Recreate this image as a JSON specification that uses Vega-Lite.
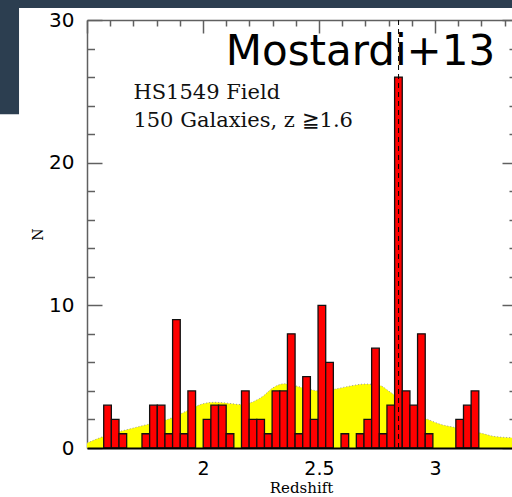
{
  "$schema": "https://vega.github.io/schema/vega-lite/v6.json",
  "width": 428,
  "height": 428,
  "autosize": {"type": "none"},
  "padding": {"left": 87, "top": 20, "right": 0, "bottom": 49},
  "background": "white",
  "view": {"stroke": null},
  "datasets": {
    "bars": [
      {"z0": 1.572, "z1": 1.605, "n": 3},
      {"z0": 1.605, "z1": 1.638, "n": 2},
      {"z0": 1.638, "z1": 1.671, "n": 1},
      {"z0": 1.737, "z1": 1.770, "n": 1},
      {"z0": 1.770, "z1": 1.803, "n": 3},
      {"z0": 1.803, "z1": 1.836, "n": 3},
      {"z0": 1.836, "z1": 1.869, "n": 1},
      {"z0": 1.869, "z1": 1.902, "n": 9},
      {"z0": 1.902, "z1": 1.935, "n": 1},
      {"z0": 1.935, "z1": 1.968, "n": 4},
      {"z0": 2.001, "z1": 2.034, "n": 2},
      {"z0": 2.034, "z1": 2.067, "n": 3},
      {"z0": 2.067, "z1": 2.100, "n": 3},
      {"z0": 2.100, "z1": 2.133, "n": 1},
      {"z0": 2.166, "z1": 2.199, "n": 4},
      {"z0": 2.199, "z1": 2.232, "n": 2},
      {"z0": 2.232, "z1": 2.265, "n": 2},
      {"z0": 2.265, "z1": 2.298, "n": 1},
      {"z0": 2.298, "z1": 2.331, "n": 4},
      {"z0": 2.331, "z1": 2.364, "n": 4},
      {"z0": 2.364, "z1": 2.397, "n": 8},
      {"z0": 2.397, "z1": 2.430, "n": 1},
      {"z0": 2.430, "z1": 2.463, "n": 5},
      {"z0": 2.463, "z1": 2.496, "n": 2},
      {"z0": 2.496, "z1": 2.529, "n": 10},
      {"z0": 2.529, "z1": 2.562, "n": 6},
      {"z0": 2.595, "z1": 2.628, "n": 1},
      {"z0": 2.661, "z1": 2.694, "n": 1},
      {"z0": 2.694, "z1": 2.727, "n": 2},
      {"z0": 2.727, "z1": 2.760, "n": 7},
      {"z0": 2.760, "z1": 2.793, "n": 1},
      {"z0": 2.793, "z1": 2.826, "n": 3},
      {"z0": 2.826, "z1": 2.859, "n": 26},
      {"z0": 2.859, "z1": 2.892, "n": 4},
      {"z0": 2.892, "z1": 2.925, "n": 3},
      {"z0": 2.925, "z1": 2.958, "n": 8},
      {"z0": 2.958, "z1": 2.991, "n": 1},
      {"z0": 3.090, "z1": 3.123, "n": 2},
      {"z0": 3.123, "z1": 3.156, "n": 3},
      {"z0": 3.156, "z1": 3.189, "n": 4}
    ],
    "selection": [
      {"z": 1.50, "s": 0.35},
      {"z": 1.57, "s": 0.8},
      {"z": 1.64, "s": 1.15},
      {"z": 1.70, "s": 1.4},
      {"z": 1.76, "s": 1.65},
      {"z": 1.84, "s": 1.96},
      {"z": 1.93, "s": 2.6},
      {"z": 2.00, "s": 3.1},
      {"z": 2.05, "s": 3.2},
      {"z": 2.10, "s": 3.15},
      {"z": 2.16, "s": 3.05},
      {"z": 2.20, "s": 3.15},
      {"z": 2.26, "s": 3.65},
      {"z": 2.30, "s": 4.2},
      {"z": 2.35, "s": 4.5},
      {"z": 2.40, "s": 4.35},
      {"z": 2.45, "s": 4.15},
      {"z": 2.50, "s": 4.0},
      {"z": 2.56, "s": 4.1},
      {"z": 2.62, "s": 4.3},
      {"z": 2.70, "s": 4.48},
      {"z": 2.76, "s": 4.4},
      {"z": 2.80, "s": 4.0},
      {"z": 2.84, "s": 3.5},
      {"z": 2.88, "s": 2.8},
      {"z": 2.93, "s": 2.25},
      {"z": 2.97, "s": 2.0},
      {"z": 3.02, "s": 1.68},
      {"z": 3.09, "s": 1.42},
      {"z": 3.20, "s": 1.03},
      {"z": 3.26, "s": 0.8},
      {"z": 3.33, "s": 0.72},
      {"z": 3.40, "s": 0.65}
    ]
  },
  "layer": [
    {
      "data": {"values": [{}]},
      "mark": {"type": "rect", "color": "#2c3e50", "clip": false},
      "encoding": {
        "x": {"datum": 1.0, "type": "quantitative", "scale": {"domain": [1.5, 3.345], "nice": false, "zero": false}, "axis": null},
        "x2": {"datum": 3.8},
        "y": {"datum": 31.6, "type": "quantitative", "scale": {"domain": [0, 30], "nice": false, "zero": false}, "axis": null},
        "y2": {"datum": 30.84}
      }
    },
    {
      "data": {"values": [{}]},
      "mark": {"type": "rect", "color": "#2c3e50", "clip": false},
      "encoding": {
        "x": {"datum": 1.0, "type": "quantitative", "axis": null},
        "x2": {"datum": 1.207},
        "y": {"datum": 31.6, "type": "quantitative", "axis": null},
        "y2": {"datum": 23.4}
      }
    },
    {
      "data": {"name": "selection"},
      "mark": {"type": "area", "color": "#ffff00", "interpolate": "monotone", "clip": true},
      "encoding": {
        "x": {"field": "z", "type": "quantitative",
          "axis": {"orient": "bottom", "values": [2, 2.5, 3], "format": "~g", "ticks": false, "domain": true, "domainColor": "black", "domainWidth": 2,
            "labelFont": "DejaVu Sans", "labelFontSize": 19, "labelColor": "black", "labelPadding": 11, "labelFlush": false,
            "title": "Redshift", "titleFont": "DejaVu Serif", "titleFontSize": 15, "titleFontWeight": "normal", "titleColor": "black", "titlePadding": 2, "zindex": 2, "grid": false}},
        "y": {"field": "s", "type": "quantitative",
          "axis": {"orient": "left", "values": [0, 10, 20, 30], "ticks": false, "domain": true, "domainColor": "#606060", "domainWidth": 1.5,
            "labelFont": "DejaVu Sans", "labelFontSize": 20, "labelColor": "black", "labelPadding": 13, "labelFlush": false,
            "title": "N", "titleFont": "DejaVu Serif", "titleFontSize": 14, "titleFontWeight": "normal", "titleColor": "black", "titlePadding": 3, "grid": false}}
      }
    },
    {
      "data": {"name": "selection"},
      "mark": {"type": "line", "color": "#9a9a9a", "strokeWidth": 1, "strokeDash": [1, 2], "interpolate": "monotone", "clip": true},
      "encoding": {
        "x": {"field": "z", "type": "quantitative",
          "axis": {"orient": "top", "values": [1.5, 2, 2.5, 3], "tickSize": -13, "tickColor": "#606060", "tickWidth": 1.5, "labels": false, "domain": true, "domainColor": "#606060", "domainWidth": 1.5, "title": null, "grid": false}},
        "y": {"field": "s", "type": "quantitative",
          "axis": {"orient": "left", "values": [0, 10, 20, 30], "tickSize": -15, "tickColor": "#606060", "tickWidth": 1.5, "labels": false, "domain": false, "title": null, "grid": false}}
      }
    },
    {
      "data": {"name": "bars"},
      "mark": {"type": "rect", "fill": "#ff0000", "stroke": "#111111", "strokeWidth": 1.3},
      "encoding": {
        "x": {"field": "z0", "type": "quantitative",
          "axis": {"orient": "top", "values": [1.6, 1.7, 1.8, 1.9, 2.1, 2.2, 2.3, 2.4, 2.6, 2.7, 2.8, 2.9, 3.1, 3.2, 3.3], "tickSize": -6, "tickColor": "#606060", "tickWidth": 1.5, "labels": false, "domain": false, "title": null, "grid": false}},
        "x2": {"field": "z1"},
        "y": {"field": "n", "type": "quantitative",
          "axis": {"orient": "left", "values": [2, 4, 6, 8, 12, 14, 16, 18, 22, 24, 26, 28], "tickSize": -7.5, "tickColor": "#606060", "tickWidth": 1.5, "labels": false, "domain": false, "title": null, "grid": false}},
        "y2": {"datum": 0}
      }
    },
    {
      "data": {"values": [{}]},
      "mark": {"type": "rule", "color": "black", "strokeWidth": 1, "strokeDash": [5, 4]},
      "encoding": {
        "x": {"datum": 2.843, "type": "quantitative", "axis": null},
        "y": {"datum": 0, "type": "quantitative",
          "axis": {"orient": "right", "values": [0, 10, 20, 30], "tickSize": -13, "tickColor": "#606060", "tickWidth": 1.5, "labels": false, "domain": true, "domainColor": "#606060", "domainWidth": 1.5, "title": null, "grid": false}},
        "y2": {"datum": 30}
      }
    },
    {
      "data": {"values": [{}]},
      "mark": {"type": "text", "align": "left", "baseline": "alphabetic", "font": "DejaVu Serif", "fontSize": 21, "lineHeight": 28, "color": "#111111",
        "text": ["HS1549 Field", "150 Galaxies, z ≧1.6"]},
      "encoding": {
        "x": {"datum": 1.70, "type": "quantitative", "axis": null},
        "y": {"datum": 24.44, "type": "quantitative",
          "axis": {"orient": "right", "values": [2, 4, 6, 8, 12, 14, 16, 18, 22, 24, 26, 28], "tickSize": -6, "tickColor": "#606060", "tickWidth": 1.5, "labels": false, "domain": false, "title": null, "grid": false}}
      }
    },
    {
      "data": {"values": [{}]},
      "mark": {"type": "text", "align": "left", "baseline": "alphabetic", "font": "DejaVu Sans", "fontSize": 42, "color": "black", "text": "Mostardi+13"},
      "encoding": {
        "x": {"datum": 2.098, "type": "quantitative", "axis": null},
        "y": {"datum": 26.85, "type": "quantitative", "axis": null}
      }
    }
  ],
  "resolve": {"axis": {"x": "independent", "y": "independent"}}
}
